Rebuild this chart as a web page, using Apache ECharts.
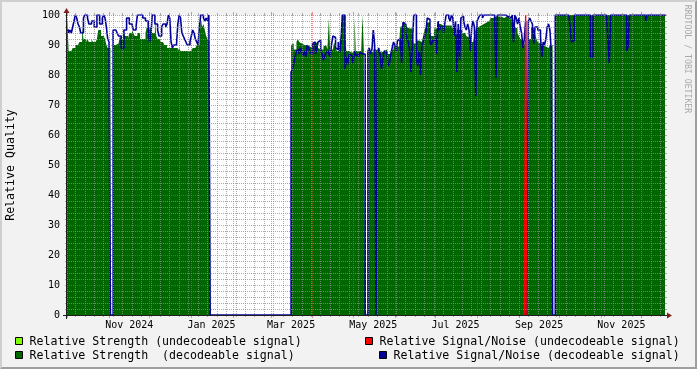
<!DOCTYPE html>
<html><head><meta charset="utf-8">
<script src="https://cdn.jsdelivr.net/npm/echarts@6/dist/echarts.min.js"></script>
<style>html,body{margin:0;padding:0;background:#F2F2F2}#c{width:697px;height:369px}</style>
</head><body><div id="c"></div>
<script>
// ---- data (one sample per day, first sample 2024-09-30 UTC) ----
const seriesNames = [
  'Relative Strength (undecodeable signal)',
  'Relative Signal/Noise (undecodeable signal)',
  'Relative Strength  (decodeable signal)',
  'Relative Signal/Noise (decodeable signal)'
];
const firstSampleDay = '2024-09-30';
const strengthDecodeable = [
  88, 99, 88, 88, 88, 89, 89, 90, 90, 90,
  91, 91, 96, 92, 92, 91, 92, 91, 91, 92,
  91, 91, 91, 92, 95, 95, 93, 93, 93, 92,
  90, 89, 89, 0, 0, 90, 90, 90, 90.5, 91,
  93, 92, 92, 94, 93, 93, 92, 94, 94, 95,
  94, 93, 93, 94, 94, 92, 92, 92, 92, 94,
  96, 96, 95, 96, 94, 94, 99, 93, 92, 92,
  91, 91, 91, 90, 90, 89, 89, 89, 89, 89,
  89, 89, 89, 88, 89, 88, 88, 88, 88, 88,
  88, 88, 88, 88, 89, 89, 89, 90, 90, 91,
  99, 96, 97, 95, 93, 92, 91, 0, 0, 0,
  0, 0, 0, 0, 0, 0, 0, 0, 0, 0,
  0, 0, 0, 0, 0, 0, 0, 0, 0, 0,
  0, 0, 0, 0, 0, 0, 0, 0, 0, 0,
  0, 0, 0, 0, 0, 0, 0, 0, 0, 0,
  0, 0, 0, 0, 0, 0, 0, 0, 0, 0,
  0, 0, 0, 0, 0, 0, 0, 90, 90.5, 88.5,
  88.5, 91, 92, 91, 90.5, 90.5, 90, 90.5, 90, 90,
  89.5, 89.5, 89, 90.5, 90.5, 90.5, 91, 89, 88.5, 88.5,
  88.5, 89.5, 90, 90, 88.5, 99, 88.5, 88.5, 89, 91,
  89, 88, 88, 91, 93, 100, 100, 94, 88, 88,
  87.5, 87.5, 87.5, 87.5, 99.5, 88, 88, 88, 88, 88,
  100, 88, 0, 0, 88, 88, 87.5, 87.5, 88.5, 88.5,
  88, 88, 87.5, 87.5, 87.5, 88, 88.5, 88.5, 88.5, 87,
  87, 88, 88.5, 89.5, 89.5, 90, 89.5, 90, 96, 96.5,
  97.5, 97.5, 97, 96, 95.5, 95, 95.5, 95, 90.5, 90.5,
  91.5, 91.5, 91.5, 91, 91.5, 93, 95, 96, 97.5, 97.5,
  94, 93, 93, 95.5, 95.5, 95.5, 97, 97, 97, 96.5,
  96.5, 96.5, 96.5, 96.5, 96.5, 96.5, 96, 95.5, 94, 93.5,
  95, 95, 95.5, 95, 94, 94, 94, 93, 92.5, 92,
  91, 91, 91.5, 93.5, 95.5, 96, 96, 96.5, 97, 97,
  97, 97.5, 98, 98, 98.5, 99, 99, 99.5, 99.5, 99.5,
  99.5, 99.5, 99.5, 99.5, 99, 99, 99.5, 99.5, 99.5, 99,
  98.5, 98.5, 98, 96, 95.5, 94, 93, 92, 92, 90.5,
  90, 90, 0, 92, 92, 96, 96, 95, 94, 92,
  91, 90.5, 90.5, 90, 89.5, 89.5, 89, 89, 89, 90,
  90, 0, 0, 100, 100, 100, 100, 100, 100, 100,
  100, 100, 100, 100, 100, 100, 100, 100, 100, 100,
  100, 100, 100, 100, 100, 100, 100, 100, 100, 100,
  100, 100, 100, 100, 100, 100, 100, 100, 100, 100,
  100, 100, 100, 100, 100, 100, 100, 100, 100, 100,
  100, 100, 100, 100, 100, 100, 100, 100, 100, 100,
  100, 100, 100, 100, 100, 100, 100, 100, 100, 100,
  100, 100, 100, 100, 100, 100, 100, 100, 100, 100,
  100, 100, 100, 100, 100, 100
];
const snrDecodeable = [
  95, 95, 94, 95, 94, 96, 98, 100, 99, 97,
  96, 94, 94, 99, 100, 100, 99, 97, 97, 98,
  98, 96, 96, 100, 100, 97, 97, 99, 100, 99,
  96, 92, 91, 0, 0, 95, 95, 95, 94, 93,
  93, 89, 89, 95, 95, 99, 99, 97, 97, 97,
  95, 95, 96, 100, 100, 100, 100, 99, 99, 98,
  98, 96, 91, 93, 100, 100, 97, 97, 95, 93,
  93, 96, 97, 97, 96, 97, 100, 99, 91, 89,
  90, 90, 90, 97, 100, 99, 94, 93, 92, 91,
  90, 90, 91, 93, 95, 94, 92, 91, 90, 96,
  100, 100, 99, 98, 99, 98, 100, 0, 0, 0,
  0, 0, 0, 0, 0, 0, 0, 0, 0, 0,
  0, 0, 0, 0, 0, 0, 0, 0, 0, 0,
  0, 0, 0, 0, 0, 0, 0, 0, 0, 0,
  0, 0, 0, 0, 0, 0, 0, 0, 0, 0,
  0, 0, 0, 0, 0, 0, 0, 0, 0, 0,
  0, 0, 0, 0, 0, 0, 0, 81, 82, 84,
  86, 88, 88.5, 87, 89, 87.5, 86.5, 88, 86, 90,
  89, 87.5, 87, 90.5, 91, 87, 88.5, 91, 91.5, 88,
  87, 85, 86.5, 87.5, 88, 87, 86, 90, 93, 92.5,
  89, 88.5, 91, 87.5, 91, 100, 100, 82, 86, 83.5,
  87, 86.5, 86.5, 84, 88, 86.5, 87, 86, 87.5, 87,
  87.5, 87, 0, 0, 88, 89, 87, 88.5, 95, 90,
  0, 87, 89, 87, 82, 85, 88, 87.5, 88, 83,
  84, 87, 89, 91, 90, 88, 91.5, 92, 91.5, 84,
  97.5, 97, 94, 92, 91, 88, 81, 90, 100, 100,
  85, 83, 88, 80, 90, 91, 93, 94, 99, 98.5,
  91, 90, 91.5, 91.5, 93, 87, 98, 95, 96, 96,
  94, 97, 100, 100, 99, 98, 100, 99, 93, 98,
  81, 97, 85, 99, 99.5, 98, 96, 95, 97, 95,
  88, 96, 98, 96, 73, 98, 99, 100, 100, 99,
  100, 100, 100, 100, 100, 100, 100, 100, 100, 79,
  100, 100, 100, 100, 100, 100, 100, 99.5, 100, 99,
  99, 100, 91, 100, 99, 97, 99, 96, 94, 89,
  92, 98, 0, 98, 99, 98, 97, 90.5, 96, 96,
  95, 95, 93, 86, 91, 90, 92, 96, 97, 95,
  88, 0, 0, 100, 100, 100, 100, 100, 100, 100,
  100, 100, 100, 100, 96, 91, 91.5, 100, 100, 100,
  100, 100, 100, 100, 100, 100, 100, 100, 100, 86,
  86, 100, 100, 100, 100, 100, 100, 100, 100, 100,
  100, 100, 92, 84, 100, 100, 100, 100, 100, 100,
  100, 100, 100, 100, 100, 100, 88, 89.5, 100, 100,
  100, 100, 100, 100, 100, 100, 100, 100, 100, 100,
  98, 100, 100, 100, 100, 100, 100, 100, 100, 100,
  100, 100, 100, 100, 100, 100
];
const strengthUndecodeable = [['2025-09-09', 96], ['2025-09-10', 96]];
const snrUndecodeable = [['2025-09-05', 0], ['2025-09-06', 100], ['2025-09-07', 0]];

// ---- axes ----
const axisStart = '2024-09-30T19:00:00Z';
const axisEnd = '2025-12-18T09:00:00Z';
const monthStarts = ['2024-10-01','2024-11-01','2024-12-01','2025-01-01','2025-02-01','2025-03-01',
  '2025-04-01','2025-05-01','2025-06-01','2025-07-01','2025-08-01','2025-09-01','2025-10-01',
  '2025-11-01','2025-12-01'];
const labelDays = ['2024-11-16','2025-01-16','2025-03-16','2025-05-16','2025-07-16','2025-09-16','2025-11-16'];
const tickLabels = ['Nov 2024','Jan 2025','Mar 2025','May 2025','Jul 2025','Sep 2025','Nov 2025'];
const firstWeek = '2024-10-07';
const yMin = 0, yMax = 100, yStep = 10;
const watermark = 'RRDTOOL / TOBI OETIKER';
const yTitle = 'Relative Quality';

const colors = ['#80FF00', '#FF0000', '#006600', '#000099'];
const GRID = 'rgba(143,143,143,0.75)';
const MGRID = 'rgba(222,79,79,0.6)';
const FONT = '"DejaVu Sans Mono", monospace';

const DAY = 86400000;
const day = s => Date.parse(s + 'T00:00:00Z');
const t0 = day(firstSampleDay);
const tMin = Date.parse(axisStart), tMax = Date.parse(axisEnd);
const daily = arr => arr.map((v, i) => [t0 + i * DAY, v]);
const pairs = arr => arr.map(p => [day(p[0]), p[1]]);
const monthTimes = monthStarts.map(day);
const labelTimes = labelDays.map(day);
const weekTimes = [];
for (let t = day(firstWeek); t < tMax; t += 7 * DAY) weekTimes.push(t);

const chart = echarts.init(document.getElementById('c'), null, {renderer: 'canvas'});

const xBase = {
  type: 'value', min: tMin, max: tMax, gridIndex: 0,
  axisLine: {show: false}, axisLabel: {show: false}, splitLine: {show: false}, z: 5
};

chart.setOption({
  animation: false,
  backgroundColor: '#F2F2F2',
  grid: {left: 67, top: 15, width: 598, height: 300, show: true, backgroundColor: '#FFFFFF', borderWidth: 0},
  xAxis: [
    Object.assign({}, xBase, {
      position: 'bottom', z: 6,
      axisTick: {show: true, customValues: monthTimes, length: 3, lineStyle: {color: MGRID, width: 1}},
      axisLabel: {
        show: true, customValues: labelTimes, margin: 5, color: '#000', fontFamily: FONT, fontSize: 10,
        formatter: v => { const k = labelTimes.findIndex(t => Math.abs(t - v) < 60000); return k >= 0 ? tickLabels[k] : ''; }
      },
      splitLine: {show: true, lineStyle: {color: MGRID, width: 1, type: [1, 1]}}
    }),
    Object.assign({}, xBase, {
      position: 'bottom', z: 5,
      axisTick: {show: true, customValues: weekTimes, length: 2, lineStyle: {color: GRID, width: 1}},
      splitLine: {show: true, lineStyle: {color: GRID, width: 1, type: [1, 1]}}
    }),
    Object.assign({}, xBase, {
      position: 'top', z: 6,
      axisTick: {show: true, customValues: monthTimes, length: 3, lineStyle: {color: MGRID, width: 1}}
    }),
    Object.assign({}, xBase, {
      position: 'top', z: 5,
      axisTick: {show: true, customValues: weekTimes, length: 2, lineStyle: {color: GRID, width: 1}}
    })
  ],
  yAxis: [
    {
      type: 'value', min: yMin, max: yMax, interval: yStep, position: 'left', z: 6,
      axisLine: {show: false},
      axisTick: {show: true, length: 2, lineStyle: {color: MGRID}},
      minorTick: {show: true, splitNumber: 5, length: 2, lineStyle: {color: GRID}},
      axisLabel: {margin: 7, color: '#000', fontFamily: FONT, fontSize: 10},
      splitLine: {show: true, lineStyle: {color: MGRID, width: 1, type: [1, 1]}},
      minorSplitLine: {show: true, lineStyle: {color: GRID, width: 1, type: [1, 1]}}
    },
    {
      type: 'value', min: yMin, max: yMax, interval: yStep, position: 'right', z: 6,
      axisLine: {show: false}, axisLabel: {show: false},
      axisTick: {show: true, length: 2, lineStyle: {color: MGRID}},
      minorTick: {show: true, splitNumber: 5, length: 2, lineStyle: {color: GRID}},
      splitLine: {show: false}, minorSplitLine: {show: false}
    }
  ],
  series: [
    {
      name: seriesNames[0], type: 'line', step: 'end', data: pairs(strengthUndecodeable),
      symbol: 'none', showSymbol: false, color: colors[0],
      lineStyle: {width: 0}, areaStyle: {color: colors[0], opacity: 1}, z: 1
    },
    {
      name: seriesNames[2], type: 'line', step: 'end', data: daily(strengthDecodeable),
      symbol: 'none', showSymbol: false, color: colors[2],
      lineStyle: {width: 0}, areaStyle: {color: colors[2], opacity: 1}, z: 2
    },
    {
      name: seriesNames[3], type: 'line', step: 'end', data: daily(snrDecodeable),
      symbol: 'none', showSymbol: false, color: colors[3],
      lineStyle: {width: 1.6, color: colors[3]}, z: 3
    },
    {
      name: seriesNames[1], type: 'line', step: 'end', data: pairs(snrUndecodeable),
      symbol: 'none', showSymbol: false, color: colors[1],
      lineStyle: {width: 1.4, color: colors[1]}, z: 4
    }
  ],
  graphic: [
    {type: 'polygon', z: 20, silent: true, shape: {points: [[0,0],[697,0],[695,2],[2,2],[2,367],[0,369]]}, style: {fill: '#CFCFCF'}},
    {type: 'polygon', z: 20, silent: true, shape: {points: [[2,367],[695,367],[695,2],[697,0],[697,369],[0,369]]}, style: {fill: '#9E9E9E'}},
    {type: 'line', z: 20, silent: true, shape: {x1: 63, y1: 315.5, x2: 669, y2: 315.5}, style: {stroke: '#1F1F1F', lineWidth: 1}},
    {type: 'line', z: 20, silent: true, shape: {x1: 66.5, y1: 319, x2: 66.5, y2: 11}, style: {stroke: '#1F1F1F', lineWidth: 1}},
    {type: 'polygon', z: 21, silent: true, shape: {points: [[667,312.5],[667,318.5],[672,315.5]]}, style: {fill: '#801F1F'}},
    {type: 'polygon', z: 21, silent: true, shape: {points: [[63.5,13],[69.5,13],[66.5,8]]}, style: {fill: '#801F1F'}},
    {type: 'text', z: 21, silent: true, x: 687, y: 59, rotation: -Math.PI / 2,
      style: {text: watermark, font: '8.2px ' + FONT, fill: '#A9A9A9', align: 'center', verticalAlign: 'middle', textAlign: 'center', textVerticalAlign: 'middle'}},
    {type: 'text', z: 21, silent: true, x: 11, y: 165, rotation: Math.PI / 2,
      style: {text: yTitle, font: '11.6px ' + FONT, fill: '#000', align: 'center', verticalAlign: 'middle', textAlign: 'center', textVerticalAlign: 'middle'}},
    {type: 'rect', z: 21, silent: true, shape: {x: 15.5, y: 337.5, width: 7, height: 7}, style: {fill: colors[0], stroke: '#000', lineWidth: 1}},
    {type: 'text', z: 21, silent: true, x: 29.5, y: 341.5, style: {text: seriesNames[0], font: '11.6px ' + FONT, fill: '#000', align: 'left', verticalAlign: 'middle', textAlign: 'left', textVerticalAlign: 'middle'}},
    {type: 'rect', z: 21, silent: true, shape: {x: 365.5, y: 337.5, width: 7, height: 7}, style: {fill: colors[1], stroke: '#000', lineWidth: 1}},
    {type: 'text', z: 21, silent: true, x: 379.5, y: 341.5, style: {text: seriesNames[1], font: '11.6px ' + FONT, fill: '#000', align: 'left', verticalAlign: 'middle', textAlign: 'left', textVerticalAlign: 'middle'}},
    {type: 'rect', z: 21, silent: true, shape: {x: 15.5, y: 351.5, width: 7, height: 7}, style: {fill: colors[2], stroke: '#000', lineWidth: 1}},
    {type: 'text', z: 21, silent: true, x: 29.5, y: 355.5, style: {text: seriesNames[2], font: '11.6px ' + FONT, fill: '#000', align: 'left', verticalAlign: 'middle', textAlign: 'left', textVerticalAlign: 'middle'}},
    {type: 'rect', z: 21, silent: true, shape: {x: 379.5, y: 351.5, width: 7, height: 7}, style: {fill: colors[3], stroke: '#000', lineWidth: 1}},
    {type: 'text', z: 21, silent: true, x: 393.5, y: 355.5, style: {text: seriesNames[3], font: '11.6px ' + FONT, fill: '#000', align: 'left', verticalAlign: 'middle', textAlign: 'left', textVerticalAlign: 'middle'}}
  ]
});
</script>
</body></html>
